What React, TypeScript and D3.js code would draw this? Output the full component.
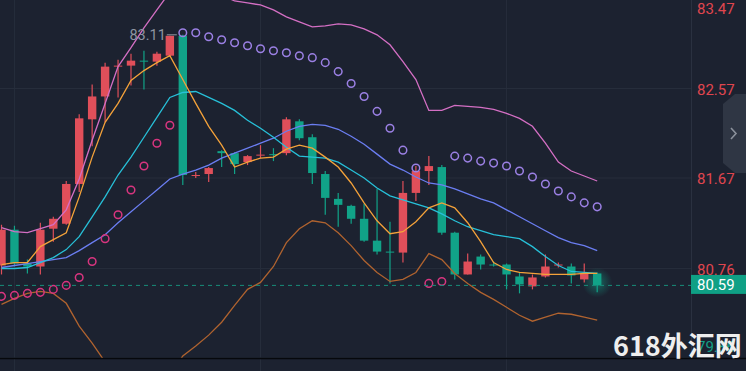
import React from 'react';
import * as d3 from 'd3';

// candle data (index = bar)
const open = [80.79, 81.15, 80.81, 80.78, 81.16, 81.21, 81.61, 82.26, 82.49, 82.79, 82.8, 82.85, 82.84, 82.9, 83.1, 81.69, 81.71, 81.94, 81.92, 81.83, 81.9, 81.91, 81.92, 82.24, 82.08, 81.71, 81.46, 81.39, 81.26, 81.04, 80.93, 80.92, 81.52, 81.74, 81.78, 81.12, 80.7, 80.88, 80.8, 80.8, 80.68, 80.58, 80.68, 80.79, 80.78, 80.65, 80.71];
const close = [81.15, 80.81, 80.78, 81.15, 81.26, 81.61, 82.27, 82.49, 82.79, 82.8, 82.85, 82.84, 82.92, 83.1, 81.7, 81.7, 81.77, 81.92, 81.81, 81.89, 81.905, 81.9, 82.26, 82.07, 81.72, 81.47, 81.4, 81.26, 81.04, 80.93, 80.92, 81.52, 81.74, 81.79, 81.12, 80.7, 80.83, 80.8, 80.79, 80.7, 80.6, 80.67, 80.78, 80.8, 80.69, 80.71, 80.59];
const high = [81.2, 81.19, 80.85, 81.22, 81.28, 81.64, 82.31, 82.61, 82.83, 82.86, 82.92, 82.95, 82.94, 83.1, 83.11, 81.73, 81.78, 81.95, 81.93, 81.9, 82.0, 81.97, 82.28, 82.26, 82.11, 81.74, 81.52, 81.4, 81.41, 81.56, 81.23, 81.64, 81.79, 81.89, 81.8, 81.13, 80.91, 80.9, 80.83, 80.81, 80.72, 80.7, 80.9, 80.82, 80.81, 80.81, 80.72];
const low = [80.7, 80.78, 80.71, 80.7, 81.03, 81.2, 81.53, 81.99, 82.23, 82.48, 82.6, 82.56, 82.8, 82.89, 81.6, 81.67, 81.63, 81.78, 81.71, 81.8, 81.87, 81.84, 81.9, 82.05, 81.61, 81.3, 81.18, 81.21, 81.03, 80.9, 80.61, 80.82, 81.44, 81.6, 81.1, 80.65, 80.7, 80.75, 80.78, 80.55, 80.51, 80.55, 80.67, 80.77, 80.61, 80.62, 80.52];

// indicator lines
const ma5 = [80.8, 80.82, 80.82, 80.98, 81.05, 81.12, 81.48, 81.88, 82.23, 82.42, 82.65, 82.75, 82.83, 82.9, 82.66, 82.42, 82.19, 82.0, 81.78, 81.83, 81.87, 81.88, 81.96, 82.0, 81.97, 81.88, 81.78, 81.62, 81.42, 81.24, 81.11, 81.13, 81.23, 81.37, 81.42, 81.37, 81.22, 81.03, 80.82, 80.75, 80.72, 80.71, 80.7, 80.7, 80.7, 80.71, 80.71];
const ma10 = [80.76, 80.76, 80.77, 80.82, 80.87, 80.95, 81.08, 81.28, 81.48, 81.7, 81.88, 82.08, 82.28, 82.48, 82.53, 82.54, 82.48, 82.42, 82.35, 82.25, 82.17, 82.08, 81.98, 81.89, 81.88, 81.87, 81.83, 81.75, 81.67, 81.57, 81.49, 81.45, 81.41, 81.37, 81.31, 81.24, 81.18, 81.14, 81.1, 81.08, 81.06, 80.98, 80.88, 80.79, 80.73, 80.72, 80.71];
const bollMid = [80.77, 80.79, 80.81, 80.83, 80.85, 80.87, 80.94, 81.02, 81.1, 81.22, 81.33, 81.44, 81.55, 81.66, 81.71, 81.75, 81.8, 81.87, 81.92, 81.97, 82.02, 82.07, 82.14, 82.19, 82.21, 82.2, 82.16, 82.09, 82.01, 81.91, 81.81, 81.75, 81.68, 81.62, 81.6, 81.56, 81.51, 81.46, 81.42, 81.35, 81.28, 81.21, 81.14, 81.07, 81.02, 80.99, 80.94];
const bollUp = [81.17, 81.13, 81.12, 81.16, 81.2, 81.35, 81.66, 82.05, 82.42, 82.79, 82.98, 83.18, 83.36, 83.54, 83.61, 83.62, 83.58, 83.51, 83.45, 83.43, 83.41, 83.36, 83.29, 83.24, 83.19, 83.2, 83.22, 83.21, 83.17, 83.11, 83.01, 82.84, 82.66, 82.35, 82.35, 82.4, 82.39, 82.38, 82.36, 82.32, 82.27, 82.19, 82.02, 81.83, 81.74, 81.69, 81.64];
const bollDn = [80.4, 80.46, 80.51, 80.53, 80.51, 80.41, 80.18, 80.01, 79.82, 79.66, 79.56, 79.52, 79.56, 79.69, 79.88, 79.98, 80.09, 80.22, 80.39, 80.55, 80.62, 80.78, 81.02, 81.16, 81.24, 81.22, 81.12, 80.99, 80.84, 80.72, 80.63, 80.65, 80.72, 80.91, 80.85, 80.71, 80.61, 80.52, 80.45, 80.37, 80.29, 80.23, 80.27, 80.31, 80.3, 80.27, 80.24];
const sar = [80.48, 80.49, 80.51, 80.52, 80.55, 80.59, 80.67, 80.83, 81.06, 81.3, 81.55, 81.79, 82.02, 82.2, 83.13, 83.13, 83.09, 83.06, 83.03, 83.0, 82.97, 82.95, 82.93, 82.9, 82.88, 82.83, 82.74, 82.62, 82.49, 82.34, 82.17, 81.95, 81.77, 80.61, 80.63, 81.89, 81.87, 81.84, 81.82, 81.79, 81.74, 81.68, 81.61, 81.54, 81.48, 81.42, 81.38];

const tickLabels = ['83.47', '82.57', '81.67', '80.76', '79.86'];
const gridBars = [1, 20, 39];
const lastPrice = 80.59;

const W = 746;
const H = 371;
const plotR = 691;
const plotB = 358;

const UP = '#e04f5a';
const DOWN = '#11a388';
const BG = '#1c2230';
const GRID = '#262d3b';

export default function App() {
  const x = d3.scaleLinear().domain([0, open.length - 1]).range([1.5, 1.5 + 12.95 * (open.length - 1)]);
  const y = d3.scaleLinear().domain([79.86, 83.47]).range([plotB, -1]);
  const line = d3.line<number>().x((_, i) => x(i)).y((d) => y(d));

  const hiIdx = d3.maxIndex(high);
  const hiX = x(hiIdx);
  const hiY = y(high[hiIdx]);
  const lastIdx = close.length - 1;

  const series = [
    { d: bollUp, c: '#d46fc4' },
    { d: bollDn, c: '#b0632f' },
    { d: bollMid, c: '#6b7ef2' },
    { d: ma10, c: '#27c0d8' },
    { d: ma5, c: '#f4a23a' },
  ];

  return (
    <svg width={W} height={H} style={{ position: 'absolute', left: 0, top: 0, background: BG }}
      fontFamily="Roboto, 'Noto Sans', sans-serif">
      <defs>
        <clipPath id="plot"><rect x={0} y={0} width={plotR} height={plotB} /></clipPath>
        <radialGradient id="glow">
          <stop offset="0%" stopColor={DOWN} stopOpacity={0.55} />
          <stop offset="100%" stopColor={DOWN} stopOpacity={0} />
        </radialGradient>
      </defs>
      <rect width={W} height={H} fill={BG} />

      {/* grid */}
      {gridBars.map((b) => (
        <line key={b} x1={x(b)} x2={x(b)} y1={0} y2={H} stroke={GRID} />
      ))}
      {tickLabels.map((t) => (
        <line key={t} x1={0} x2={plotR} y1={y(+t)} y2={y(+t)} stroke={GRID} />
      ))}
      <line x1={plotR + 0.5} x2={plotR + 0.5} y1={0} y2={plotB} stroke="#2a3140" />

      <g clipPath="url(#plot)">
        <circle cx={x(lastIdx)} cy={y((open[lastIdx] + close[lastIdx]) / 2) + 3} r={15} fill="url(#glow)" />

        {/* candles */}
        {open.map((o, i) => {
          const c = close[i];
          const col = c >= o ? UP : DOWN;
          const top = y(Math.max(o, c));
          const h = Math.max(1, Math.abs(y(o) - y(c)));
          return (
            <g key={i}>
              <line x1={x(i)} x2={x(i)} y1={y(high[i])} y2={y(low[i])} stroke={col} strokeWidth={1.2} />
              <rect x={x(i) - 4.2} y={top} width={8.4} height={h} fill={col} />
            </g>
          );
        })}

        {series.map((s, k) => (
          <path key={k} d={line(s.d) || ''} fill="none" stroke={s.c} strokeWidth={1.3} />
        ))}

        {sar.map((v, i) => (
          <circle key={i} cx={x(i)} cy={y(v)} r={3.8} fill="none"
            stroke={v > close[i] ? '#9b80e4' : '#d8357f'} strokeWidth={1.5} />
        ))}

        {/* highest price mark */}
        <line x1={hiX - 16} x2={hiX - 6} y1={hiY} y2={hiY} stroke="#8e95a2" />
        <text x={hiX - 17} y={hiY + 5} textAnchor="end" fontSize={14.5} fill="#8e95a2">
          {high[hiIdx].toFixed(2)}
        </text>

        <line x1={0} x2={plotR} y1={y(lastPrice)} y2={y(lastPrice)} stroke="#178d79" strokeDasharray="4 4" />
      </g>

      <line x1={0} x2={W} y1={plotB + 0.5} y2={plotB + 0.5} stroke="#06080c" strokeWidth={1.5} />

      {/* right axis */}
      {tickLabels.map((t) => {
        const ty = Math.min(347, Math.max(9, y(+t) + 1));
        return (
          <text key={t} x={697} y={ty} dy="0.35em" fontSize={15} fill={+t > lastPrice ? '#e0464f' : '#14a088'}>
            {t}
          </text>
        );
      })}
      <rect x={plotR} y={y(lastPrice) - 10.5} width={W - plotR} height={19} fill="#0fa085" />
      <text x={697} y={y(lastPrice) - 1} dy="0.35em" fontSize={15} fill="#ffffff">{lastPrice.toFixed(2)}</text>

      <path d="M735,94 L746,94 L746,173 L735,173 L723,163 L723,104 Z" fill="#2f3644" />
      <path d="M731,128 L736,133.5 L731,139" fill="none" stroke="#8b919c" strokeWidth={1.6} />

      <text x={613} y={356} fontSize={27} fontWeight={700} fill="#eeeeee"
        fontFamily="'Noto Sans CJK SC', 'Noto Sans', sans-serif">618外汇网</text>
    </svg>
  );
}
